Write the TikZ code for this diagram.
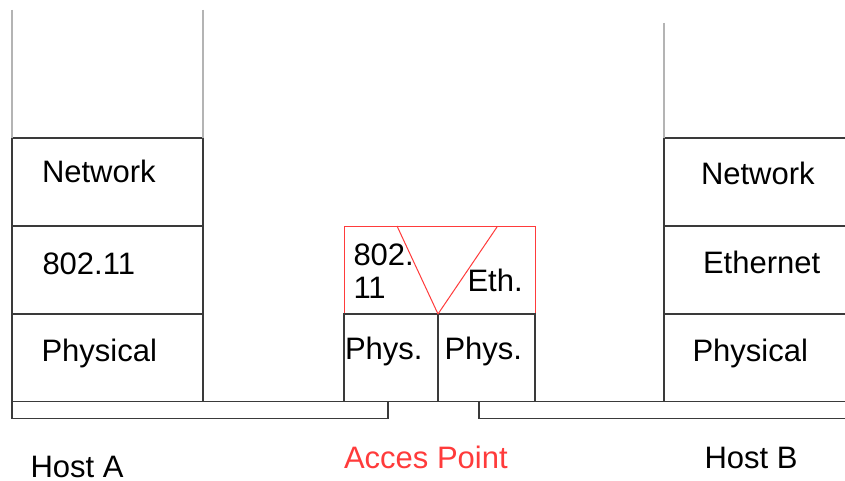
\documentclass[tikz,border=0pt]{standalone}
\usepackage{fontspec}
\setmainfont{Liberation Sans}
\definecolor{linecol}{HTML}{3A3A3A}
\definecolor{stemcol}{HTML}{B4B4B4}
\definecolor{apred}{HTML}{FF3B3B}
\begin{document}
\begin{tikzpicture}[x=1pt,y=-1pt,
  layer/.style={rectangle, draw=linecol, line width=1.2pt, inner sep=0pt, outer sep=0pt, anchor=north west},
  aplayer/.style={rectangle, draw=apred, line width=1pt, inner sep=0pt, outer sep=0pt, anchor=north west},
  stem/.style={draw=stemcol, line width=1.2pt},
  wire/.style={draw=linecol, line width=1.2pt},
  vline/.style={draw=apred, line width=1pt},
  lbl/.style={anchor=base west, inner sep=0pt, outer sep=0pt, font=\fontsize{31}{33}\selectfont},
  aplbl/.style={lbl, text=apred}]
\clip (0,0) rectangle (845,481);
\fill[white] (0,0) rectangle (845,481);

% Host A stack
\node[layer, minimum width=191pt, minimum height=88pt] (aNet) at (12,138) {};
\node[layer, minimum width=191pt, minimum height=88pt] (aMac) at (12,226) {};
\node[layer, minimum width=191pt, minimum height=87.5pt] (aPhy) at (12,314) {};
\coordinate (aTopL) at (12,10);
\coordinate (aTopR) at (203,10);
\draw[stem] (aTopL) -- (aNet.north west);
\draw[stem] (aTopR) -- (aNet.north east);

% Host B stack
\node[layer, minimum width=190pt, minimum height=88pt] (bNet) at (664,138) {};
\node[layer, minimum width=190pt, minimum height=88pt] (bMac) at (664,226) {};
\node[layer, minimum width=190pt, minimum height=87.5pt] (bPhy) at (664,314) {};
\coordinate (bTop) at (664,23);
\draw[stem] (bTop) -- (bNet.north west);

% Access point
\node[aplayer, minimum width=191pt, minimum height=88pt] (apMac) at (344,226) {};
\node[layer, minimum width=94pt, minimum height=87.5pt] (apPhyA) at (344,314) {};
\node[layer, minimum width=97pt, minimum height=87.5pt] (apPhyB) at (438,314) {};
\coordinate (vL) at (397,226);
\coordinate (vR) at (497,227);
\draw[vline] (vL) -- (apPhyA.north east);
\draw[vline] (vR) -- (apPhyA.north east);

% links (bottom bars)
\coordinate (linkAend) at (388,401.5);
\coordinate (linkBstart) at (479,401.5);
\coordinate (linkBend) at (850,418.3);
\draw[wire] (aPhy.south west) -- ++(0,16.8) -| (linkAend);
\draw[wire] (linkBstart) |- (linkBend);
\draw[wire] (aPhy.south west) -- (linkAend);
\draw[wire] (linkBstart) -- (850,401.5);

% labels
\node[lbl] (tANet) at (42,182.7) {Network};
\node[lbl] (tAMac) at (42.5,274) {802.11};
\node[lbl] (tAPhy) at (41.5,361) {Physical};
\node[lbl] (tBNet) at (701,184) {Network};
\node[lbl] (tBMac) at (703,273.3) {Ethernet};
\node[lbl] (tBPhy) at (692.5,361) {Physical};
\node[lbl] (tAp1) at (353.5,265) {802.};
\node[lbl] (tAp2) at (353.5,298.3) {11};
\node[lbl] (tEth) at (467.5,291) {Eth.};
\node[lbl] (tPhA) at (345,359.3) {Phys.};
\node[lbl] (tPhB) at (444.5,359.3) {Phys.};
\node[lbl] (hostA) at (30.5,477) {Host A};
\node[aplbl] (apName) at (344,468.7) {Acces Point};
\node[lbl] (hostB) at (704.5,468.3) {Host B};
\end{tikzpicture}
\end{document}
